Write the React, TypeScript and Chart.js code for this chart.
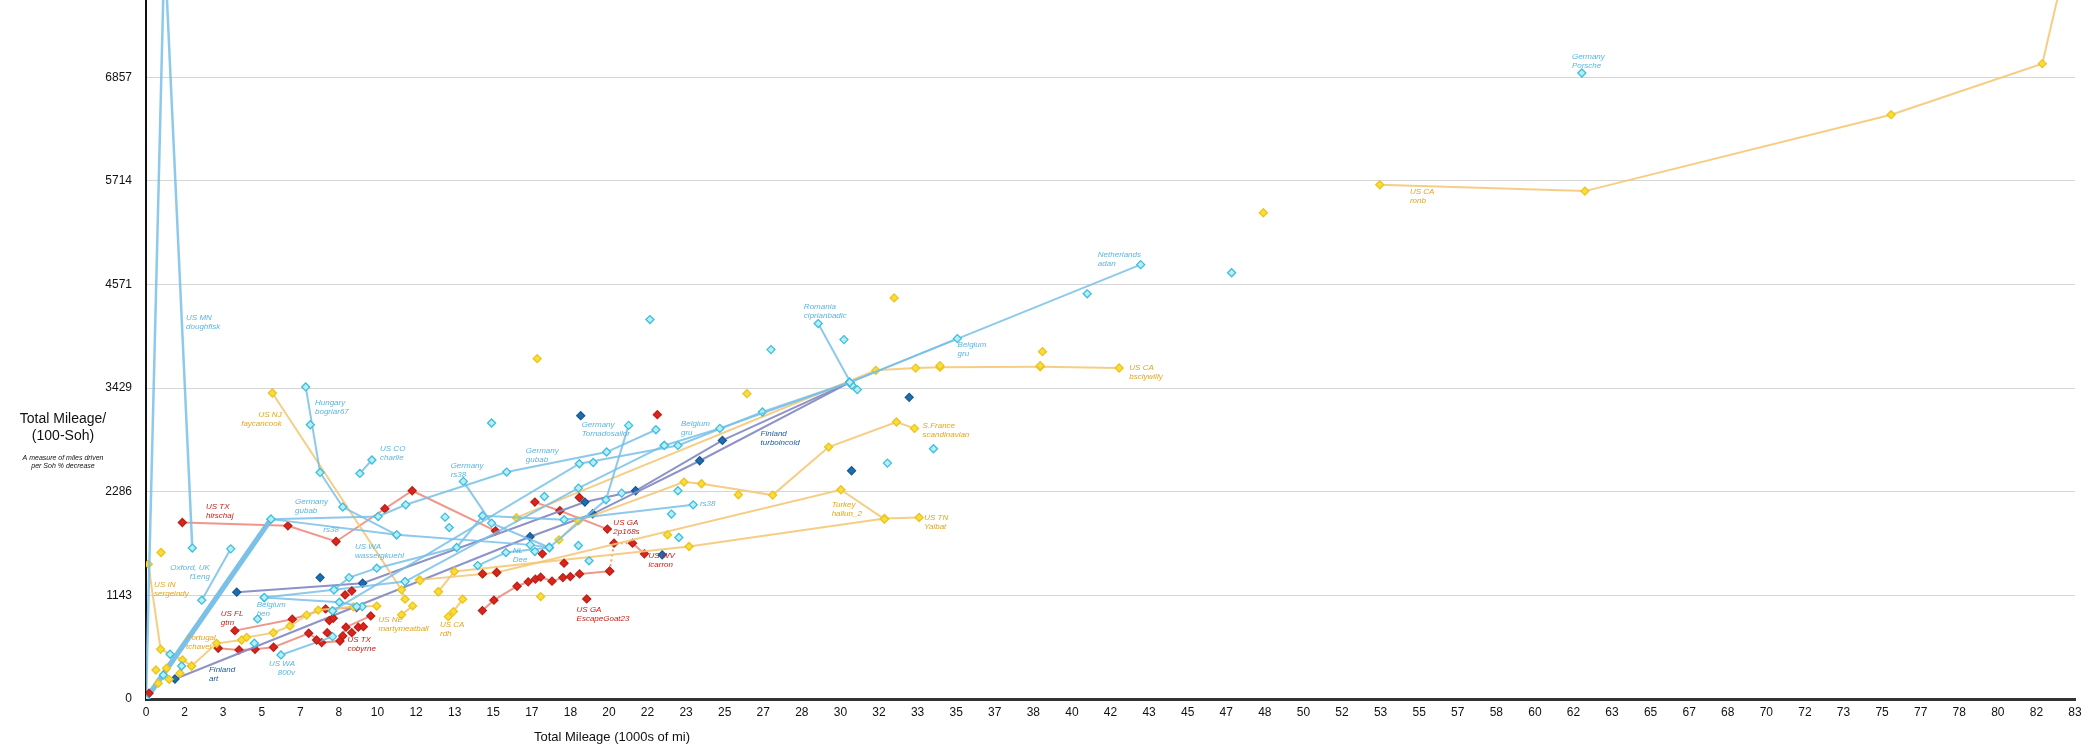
import React, { useEffect, useRef } from 'react';
import { Chart, registerables } from 'chart.js';

Chart.register(...registerables);

// ---------- axis ticks ----------
const X_TICK_STEP = 5 / 3;
const X_TICK_LABELS = ['0','2','3','5','7','8','10','12','13','15','17','18','20','22','23','25','27','28','30','32','33','35','37','38','40','42','43','45','47','48','50','52','53','55','57','58','60','62','63','65','67','68','70','72','73','75','77','78','80','82','83'];
const Y_TICK_STEP = 8000 / 7;
const Y_TICK_LABELS = ['0','1143','2286','3429','4571','5714','6857'];
const X_MAX = 250 / 3;
const Y_MAX = 7710;

// ---------- light blue series ----------
const usMnDoughfisk = [[0,0],[0.8,8300],[2.0,1665]];
const deGubab = [[0,0],[5.4,1984],[10.03,2013],[11.22,2142],[15.58,2503],[19.9,2724],[22.03,2970]];
const rs38 = [[0,0],[5.4,1984],[10.83,1811],[16.6,1700],[17.42,1671]];
const ukF1eng = [[2.41,1090],[3.66,1656]];
const huBogriar67 = [[6.9,3442],[7.52,2499],[8.5,2117],[10.83,1811]];
const usCoCharlie = [[9.24,2488],[9.76,2636]];
const deRs38 = [[13.71,2400],[14.93,1940],[17.42,1671]];
const deTornadosailor = [[17.42,1671],[19.87,2197],[20.85,3018]];
const beBen = [[5.11,1119],[8.35,1068],[9.34,1019]];
const beBen2 = [[5.11,1119],[8.12,1204],[11.19,1295]];
const usWaWasser = [[8.12,1204],[8.77,1339],[9.97,1443],[13.42,1671],[14.54,2021]];
const usWa800v = [[5.83,486],[8.06,688]];
const nlDee = [[14.33,1472],[15.55,1615],[17.42,1671]];
const beGru = [[11.19,1295],[18.68,2326],[22.39,2797],[24.79,2985],[30.4,3493],[35.05,3975]];
const nlAdan = [[8.06,972],[18.72,2595],[22.98,2797],[26.63,3166],[30.4,3493],[42.97,4791]];
const roCiprian = [[29.04,4141],[30.5,3460]];
const rs38b = [[14.54,2021],[18.06,1977],[23.64,2142]];
const cyanPoints = [[0,0],[7.1,3025],[14.93,3044],[21.77,4185],[27.0,3854],[30.15,3964],[30.73,3412],[32.03,2602],[34.02,2760],[40.66,4469],[46.9,4702],[22.7,2040],[23.02,1781],[19.14,1524],[18.68,1693],[16.8,1626],[12.92,2006],[13.1,1891],[22.98,2297],[20.55,2271],[17.21,2234],[4.68,615],[4.82,883],[1.04,494],[1.54,364],[0.75,265],[62.03,6905],[22.39,2797],[19.32,2609],[8.06,972],[9.1,1019]];

// ---------- yellow series ----------
const usNjFaycancook = [[5.46,3375],[11.04,1204],[11.19,1101]];
const usInSergeindy = [[0.1,1487],[0.63,549],[1.58,431],[1.97,364]];
const ptTchavel = [[1.97,364],[3.05,614],[4.13,651],[4.35,680],[5.5,731],[6.22,805],[6.94,926],[7.44,981],[8.96,1017],[9.97,1025]];
const usNeMarty = [[11.04,928],[11.52,1027]];
const usCaRdh = [[13.06,909],[13.28,964],[13.68,1101]];
const trHallun = [[11.81,1314],[14.54,1380],[15.15,1395],[30.02,2308],[31.9,1984]];
const usTnYalbat = [[12.63,1185],[13.32,1406],[23.46,1682],[31.9,1991],[33.4,2002]];
const frScandinavian = [[17.84,1756],[18.68,1965],[23.24,2393],[24.0,2374],[27.07,2249],[29.49,2779],[32.42,3055],[33.2,2985]];
const usCaBsclywilly = [[16.0,2000],[31.53,3625],[33.25,3650],[34.3,3660],[38.63,3665],[42.04,3651]];
const usCaRonb = [[53.3,5672],[62.16,5602],[75.39,6445],[81.92,7008],[83.1,8300]];
const yellowPoints = [[0.65,1616],[0.43,320],[0.53,173],[0.89,339],[1.0,217],[1.47,284],[16.9,3754],[25.96,3368],[32.32,4424],[38.73,3831],[48.27,5363],[22.53,1811],[25.59,2253],[17.05,1130],[11.84,1306],[12.63,1182],[34.3,3677],[38.63,3677]];

// ---------- red series ----------
const usTxHirschaj = [[1.57,1947],[6.13,1910],[8.21,1737],[10.32,2098],[11.5,2297],[15.1,1855]];
const usFlGtm = [[3.84,754],[6.32,880],[7.76,994],[9.1,1008]];
const usTxCobyrne = [[3.12,560],[4.02,541],[4.71,549],[5.51,571],[7.03,725],[7.59,622],[8.38,640],[8.64,792],[9.71,916]];
const usGaEscapeGoat = [[14.53,975],[15.03,1090],[16.03,1244],[16.51,1292],[16.82,1322],[17.05,1344],[17.54,1300],[18.01,1339],[18.33,1350],[18.73,1380],[20.03,1410]];
const usGa2p168s = [[16.8,2172],[17.88,2076],[19.93,1874]];
const usWvIcarron = [[20.03,1410],[20.22,1719],[21.02,1719],[21.53,1601]];
const redPoints = [[0.13,63],[7.83,732],[8.5,696],[8.89,732],[9.17,792],[9.39,798],[8.6,1148],[8.89,1193],[7.92,865],[8.09,891],[17.12,1601],[18.06,1498],[22.09,3136],[18.72,2223],[19.04,1104],[14.54,1380],[15.15,1395],[7.37,651]];

// ---------- dark blue series ----------
const fiArt = [[1.25,221],[16.59,1790],[19.3,2043],[23.92,2628],[30.4,3493]];
const fiTurboincold = [[3.92,1178],[9.36,1277],[18.96,2172],[21.15,2297],[24.9,2852],[30.4,3493]];
const darkPoints = [[7.52,1339],[18.78,3125],[32.97,3327],[30.48,2518],[22.3,1590]];

// ---------- annotations ----------
const LABELS = [
  { t: ['US MN', 'doughfisk'], x: 1.73, y: 4200, g: 'cyan' },
  { t: ['US TX', 'hirschaj'], x: 2.59, y: 2120, g: 'red' },
  { t: ['Germany', 'gubab'], x: 6.44, y: 2175, g: 'cyan' },
  { t: ['rs38'], x: 7.66, y: 1863, g: 'cyan' },
  { t: ['Hungary', 'bogriar67'], x: 7.3, y: 3271, g: 'cyan' },
  { t: ['US NJ', 'faycancook'], x: 5.86, y: 3131, g: 'yellow', right: true },
  { t: ['US CO', 'charlie'], x: 10.11, y: 2764, g: 'cyan' },
  { t: ['Germany', 'rs38'], x: 13.16, y: 2569, g: 'cyan' },
  { t: ['Germany', 'gubab'], x: 16.41, y: 2734, g: 'cyan' },
  { t: ['Germany', 'Tornadosailor'], x: 18.82, y: 3028, g: 'cyan' },
  { t: ['Belgium', 'gru'], x: 23.11, y: 3039, g: 'cyan' },
  { t: ['Finland', 'turboincold'], x: 26.55, y: 2929, g: 'dark' },
  { t: ['rs38'], x: 23.93, y: 2157, g: 'cyan' },
  { t: ['US GA', '2p168s'], x: 20.19, y: 1944, g: 'red' },
  { t: ['US WV', 'icarron'], x: 21.71, y: 1580, g: 'red' },
  { t: ['NL', 'Dee'], x: 15.84, y: 1632, g: 'cyan' },
  { t: ['Turkey', 'hallun_2'], x: 29.62, y: 2139, g: 'yellow' },
  { t: ['US GA', 'EscapeGoat23'], x: 18.6, y: 989, g: 'red' },
  { t: ['Romania', 'ciprianbadic'], x: 28.42, y: 4325, g: 'cyan' },
  { t: ['Belgium', 'gru'], x: 35.06, y: 3910, g: 'cyan' },
  { t: ['S.France', 'scandinavian'], x: 33.55, y: 3013, g: 'yellow' },
  { t: ['US CA', 'bsclywilly'], x: 42.48, y: 3657, g: 'yellow' },
  { t: ['US TN', 'Yalbat'], x: 33.62, y: 1999, g: 'yellow' },
  { t: ['US CA', 'ronb'], x: 54.6, y: 5593, g: 'yellow' },
  { t: ['Germany', 'Porsche'], x: 61.6, y: 7081, g: 'cyan' },
  { t: ['Netherlands', 'adan'], x: 41.12, y: 4901, g: 'cyan' },
  { t: ['Oxford, UK', 'f1eng'], x: 2.76, y: 1452, g: 'cyan', right: true },
  { t: ['US IN', 'sergeindy'], x: 0.35, y: 1257, g: 'yellow' },
  { t: ['Belgium', 'ben'], x: 4.78, y: 1044, g: 'cyan' },
  { t: ['US FL', 'gtm'], x: 3.23, y: 945, g: 'red' },
  { t: ['Portugal', 'tchavel'], x: 1.73, y: 676, g: 'yellow' },
  { t: ['Finland', 'art'], x: 2.72, y: 320, g: 'dark' },
  { t: ['US WA', '800v'], x: 6.44, y: 393, g: 'cyan', right: true },
  { t: ['US TX', 'cobyrne'], x: 8.7, y: 650, g: 'red' },
  { t: ['US NE', 'martymeatball'], x: 10.04, y: 871, g: 'yellow' },
  { t: ['US CA', 'rdh'], x: 12.7, y: 816, g: 'yellow' },
  { t: ['US WA', 'wassergkuehl'], x: 9.03, y: 1679, g: 'cyan' },
];

const STYLE: Record<string, { line: string; fill: string; border: string; text: string }> = {
  cyan: { line: 'rgba(120,192,232,0.85)', fill: '#b8edf8', border: '#3dbfdc', text: '#5bb5de' },
  yellow: { line: 'rgba(245,200,120,0.9)', fill: '#f7de3a', border: '#eec31c', text: '#e4a51a' },
  red: { line: 'rgba(238,140,125,0.9)', fill: '#d8261c', border: '#bf1f18', text: '#c81e16' },
  dark: { line: 'rgba(135,140,196,0.95)', fill: '#1f6eb0', border: '#175a93', text: '#1c5a96' },
};

const SERIES: { d: number[][]; g: string; w?: number; thickFirst?: boolean; dashFirst?: number }[] = [
  { d: usMnDoughfisk, g: 'cyan', w: 2.5 },
  { d: deGubab, g: 'cyan', thickFirst: true },
  { d: rs38, g: 'cyan', thickFirst: true },
  { d: ukF1eng, g: 'cyan' },
  { d: huBogriar67, g: 'cyan' },
  { d: usCoCharlie, g: 'cyan' },
  { d: deRs38, g: 'cyan' },
  { d: deTornadosailor, g: 'cyan' },
  { d: beBen, g: 'cyan' },
  { d: beBen2, g: 'cyan' },
  { d: usWaWasser, g: 'cyan' },
  { d: usWa800v, g: 'cyan' },
  { d: nlDee, g: 'cyan' },
  { d: beGru, g: 'cyan' },
  { d: nlAdan, g: 'cyan' },
  { d: roCiprian, g: 'cyan' },
  { d: rs38b, g: 'cyan' },
  { d: usNjFaycancook, g: 'yellow' },
  { d: usInSergeindy, g: 'yellow' },
  { d: ptTchavel, g: 'yellow' },
  { d: usNeMarty, g: 'yellow' },
  { d: usCaRdh, g: 'yellow' },
  { d: trHallun, g: 'yellow' },
  { d: usTnYalbat, g: 'yellow' },
  { d: frScandinavian, g: 'yellow' },
  { d: usCaBsclywilly, g: 'yellow' },
  { d: usCaRonb, g: 'yellow' },
  { d: fiArt, g: 'dark' },
  { d: fiTurboincold, g: 'dark' },
  { d: usTxHirschaj, g: 'red' },
  { d: usFlGtm, g: 'red' },
  { d: usTxCobyrne, g: 'red' },
  { d: usGaEscapeGoat, g: 'red' },
  { d: usGa2p168s, g: 'red' },
  { d: usWvIcarron, g: 'red', dashFirst: 2 },
];

const POINT_SETS: { d: number[][]; g: string }[] = [
  { d: cyanPoints, g: 'cyan' },
  { d: yellowPoints, g: 'yellow' },
  { d: darkPoints, g: 'dark' },
  { d: redPoints, g: 'red' },
];

const FONT = '"Liberation Sans", Arial, Helvetica, sans-serif';
const POINT_R = 4;

const textPlugin = {
  id: 'textPlugin',
  afterDatasetsDraw(chart: any) {
    const { ctx } = chart;
    const xs = chart.scales.x;
    const ys = chart.scales.y;
    ctx.save();
    ctx.font = `italic 8px ${FONT}`;
    ctx.textBaseline = 'middle';
    for (const l of LABELS) {
      const px = xs.getPixelForValue(l.x);
      const py = ys.getPixelForValue(l.y);
      ctx.fillStyle = STYLE[l.g].text;
      ctx.textAlign = l.right ? 'right' : 'left';
      l.t.forEach((s, i) => ctx.fillText(s, px, py + i * 9));
    }
    ctx.restore();
  },
  afterDraw(chart: any) {
    const { ctx } = chart;
    ctx.save();
    ctx.fillStyle = '#111';
    ctx.textAlign = 'center';
    ctx.textBaseline = 'middle';
    ctx.font = `13px ${FONT}`;
    ctx.fillText('Total Mileage (1000s of mi)', 612, 737);
    ctx.font = `14px ${FONT}`;
    ctx.fillText('Total Mileage/', 63, 419);
    ctx.fillText('(100-Soh)', 63, 436);
    ctx.font = `italic 7px ${FONT}`;
    ctx.fillText('A measure of miles driven', 63, 458);
    ctx.fillText('per Soh % decrease', 63, 466.5);
    ctx.restore();
  },
};

const toXY = (d: number[][]) => d.map(([x, y]) => ({ x, y }));

export default function App() {
  const ref = useRef<HTMLCanvasElement | null>(null);
  useEffect(() => {
    if (!ref.current) return;
    const datasets: any[] = [];
    for (const p of POINT_SETS) {
      const s = STYLE[p.g];
      datasets.push({
        data: toXY(p.d),
        showLine: false,
        pointStyle: 'rectRot',
        pointRadius: POINT_R,
        pointBorderWidth: 1.3,
        pointBackgroundColor: s.fill,
        pointBorderColor: s.border,
      });
    }
    for (const se of SERIES) {
      const s = STYLE[se.g];
      const ds: any = {
        data: toXY(se.d),
        showLine: true,
        tension: 0,
        borderColor: s.line,
        borderWidth: se.w ?? 2,
        pointStyle: 'rectRot',
        pointRadius: POINT_R,
        pointBorderWidth: 1.3,
        pointBackgroundColor: s.fill,
        pointBorderColor: s.border,
      };
      const seg: any = {};
      if (se.thickFirst) seg.borderWidth = (c: any) => (c.p0DataIndex === 0 ? 5 : undefined);
      if (se.dashFirst) {
        seg.borderDash = (c: any) => (c.p0DataIndex < (se.dashFirst as number) ? [2, 3] : undefined);
        seg.borderColor = (c: any) => (c.p0DataIndex < (se.dashFirst as number) ? 'rgba(235,150,90,0.9)' : undefined);
      }
      ds.segment = seg;
      datasets.push(ds);
    }
    const chart = new Chart(ref.current, {
      type: 'scatter',
      data: { datasets },
      plugins: [textPlugin],
      options: {
        animation: false,
        responsive: false,
        events: [],
        layout: { autoPadding: false, padding: { left: 0, right: 25, top: 0, bottom: 0 } },
        plugins: { legend: { display: false }, tooltip: { enabled: false } },
        scales: {
          x: {
            type: 'linear',
            min: 0,
            max: X_MAX,
            afterFit: (s: any) => { s.height = 54; s.paddingLeft = 0; s.paddingRight = 0; },
            afterBuildTicks: (s: any) => { s.ticks = X_TICK_LABELS.map((_, i) => ({ value: i * X_TICK_STEP })); },
            ticks: {
              autoSkip: false,
              maxRotation: 0,
              minRotation: 0,
              padding: 6,
              color: '#111',
              font: { family: FONT, size: 12 },
              callback: (_v: any, i: number) => X_TICK_LABELS[i],
            },
            grid: { display: false, drawTicks: false },
            border: { display: true, color: '#333', width: 3 },
          },
          y: {
            type: 'linear',
            min: 0,
            max: Y_MAX,
            afterFit: (s: any) => { s.width = 146; s.paddingTop = 0; s.paddingBottom = 0; },
            afterBuildTicks: (s: any) => { s.ticks = Y_TICK_LABELS.map((_, i) => ({ value: i * Y_TICK_STEP })); },
            ticks: {
              padding: 14,
              color: '#111',
              font: { family: FONT, size: 12 },
              callback: (_v: any, i: number) => Y_TICK_LABELS[i],
            },
            grid: { color: '#d6d6d6', lineWidth: 1, drawTicks: false },
            border: { display: true, color: '#111', width: 2 },
          },
        },
      } as any,
    });
    return () => chart.destroy();
  }, []);
  return (
    <div style={{ position: 'absolute', left: 0, top: 0, width: 2100, height: 753, background: '#fff' }}>
      <canvas ref={ref} width={2100} height={753} style={{ display: 'block', width: 2100, height: 753 }} />
    </div>
  );
}
